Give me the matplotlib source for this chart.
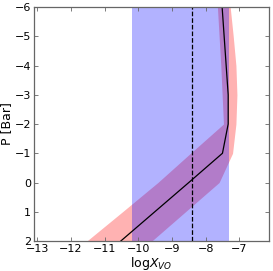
import matplotlib
matplotlib.use("Agg")
import matplotlib.pyplot as plt
import numpy as np

# Pressure levels (log bar)
pressure = [-6, -5, -4, -3, -2, -1, 0, 1, 2]
# median profile of log X_VO
median_vo = [-7.51, -7.45, -7.39, -7.33, -7.33, -7.50, -8.50, -9.51, -10.52]
# credible band (red)
band_low = [-7.65, -7.60, -7.55, -7.51, -7.47, -8.45, -9.42, -10.47, -11.53]
band_high = [-7.27, -7.18, -7.10, -7.07, -7.10, -7.20, -7.60, -8.60, -9.60]
# uniform (blue) region and dashed reference value
blue_low, blue_high = -10.20, -7.30
dashed_value = -8.40

xticks = [-13, -12, -11, -10, -9, -8, -7]
yticks = [-6, -5, -4, -3, -2, -1, 0, 1, 2]

fig = plt.figure(figsize=(2.73, 2.71), dpi=100)
ax = fig.add_axes([0.1245, 0.1107, 0.8605, 0.8633])

ax.fill_betweenx(pressure, band_low, band_high, color='red', alpha=0.3, lw=0)
ax.axvspan(blue_low, blue_high, color='blue', alpha=0.3, lw=0)
ax.plot(median_vo, pressure, color='black', lw=0.9)
ax.axvline(dashed_value, color='black', ls='--', lw=0.9)

ax.set_xlim(-13.1, -6.12)
ax.set_ylim(2, -6)
ax.set_xticks(xticks)
ax.set_yticks(yticks)
ax.set_xticklabels([f"\u2212{abs(t)}" if t < 0 else str(t) for t in xticks])
ax.set_yticklabels([f"\u2212{abs(t)}" if t < 0 else str(t) for t in yticks])
ax.tick_params(direction='in', top=True, right=True, length=3, width=0.6,
               color='#666666', labelsize=8, pad=2)
for s in ax.spines.values():
    s.set_color('#666666')
    s.set_linewidth(0.9)
ax.set_xlabel(r'log$X_{VO}$', fontsize=9, labelpad=1)
ax.set_ylabel('P [Bar]', fontsize=9, labelpad=1)

fig.savefig('out.png', dpi=100)
